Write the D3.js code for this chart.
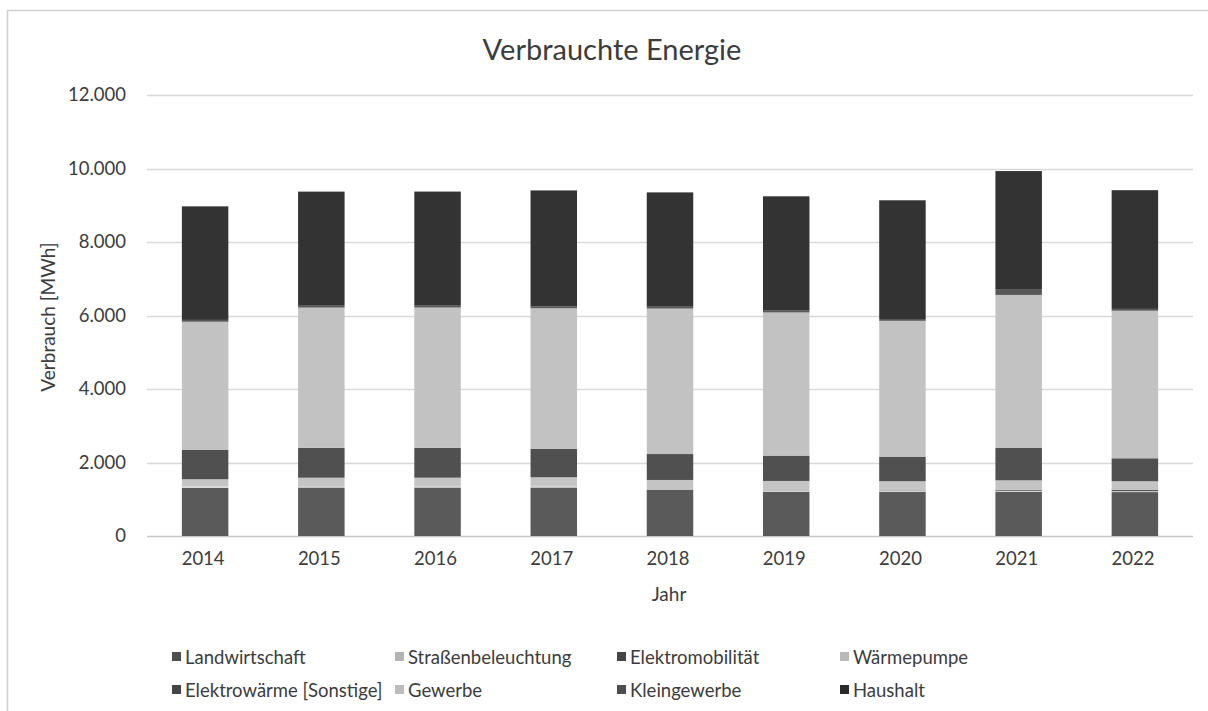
<!DOCTYPE html>
<html>
<head>
<meta charset="utf-8">
<script src="https://cdn.jsdelivr.net/npm/d3@7"></script>
<style>
  html, body { margin: 0; padding: 0; background: #fff; }
  svg { display: block; font-family: Lato, "Open Sans", sans-serif; }
</style>
</head>
<body>
<svg id="chart" width="1208" height="711"></svg>
<script>
// ---- Data ----
const years = ["2014", "2015", "2016", "2017", "2018", "2019", "2020", "2021", "2022"];
const seriesNames = ["Landwirtschaft", "Straßenbeleuchtung", "Elektromobilität", "Wärmepumpe",
                     "Elektrowärme [Sonstige]", "Gewerbe", "Kleingewerbe", "Haushalt"];
const landwirtschaft     = [1310, 1320, 1320, 1320, 1265, 1205, 1205, 1205, 1195];
const strassenbeleuchtung = [40, 40, 40, 40, 35, 25, 25, 25, 25];
const elektromobilitaet  = [0, 1, 2, 3, 5, 8, 10, 20, 30];
const waermepumpe        = [195, 225, 225, 235, 220, 260, 250, 265, 240];
const elektrowaerme      = [795, 810, 810, 770, 705, 690, 660, 880, 625];
const gewerbe            = [3490, 3820, 3820, 3830, 3960, 3895, 3705, 4165, 4015];
const kleingewerbe       = [50, 50, 50, 50, 50, 50, 50, 160, 50];
const haushalt           = [3090, 3105, 3105, 3155, 3110, 3110, 3230, 3210, 3230];
const yTicks = [0, 2000, 4000, 6000, 8000, 10000, 12000];

const seriesValues = [landwirtschaft, strassenbeleuchtung, elektromobilitaet, waermepumpe,
                      elektrowaerme, gewerbe, kleingewerbe, haushalt];
const barColors    = ["#5a5a5a", "#d6d6d6", "#4a4a4a", "#c4c4c4", "#505050", "#c2c2c2", "#585858", "#333333"];
const legendColors = ["#4e4e4e", "#b4b4b4", "#454545", "#b8b8b8", "#454545", "#bcbcbc", "#4e4e4e", "#2a2a2a"];

// build table
const table = years.map((y, i) => {
  const row = { year: y };
  seriesNames.forEach((s, k) => row[s] = seriesValues[k][i]);
  return row;
});

const svg = d3.select("#chart");
svg.append("rect").attr("width", 1208).attr("height", 711).attr("fill", "#fff");
// chart border
svg.append("rect").attr("x", 7.5).attr("y", 10.5).attr("width", 1220).attr("height", 720)
  .attr("fill", "none").attr("stroke", "#d0d0d0").attr("stroke-width", 1.5);

const locale = d3.formatLocale({ decimal: ",", thousands: ".", grouping: [3], currency: ["", " €"] });
const fmt = locale.format(",");

const x = d3.scaleBand().domain(years).range([147, 1193]).paddingInner(0.6).paddingOuter(0.3);
const y = d3.scaleLinear().domain([0, 12000]).range([536, 95]);

const textCol = "#3c3c3c";

// gridlines
svg.append("g").selectAll("line").data(yTicks).join("line")
  .attr("x1", 147).attr("x2", 1193)
  .attr("y1", d => Math.round(y(d)) + 0.5).attr("y2", d => Math.round(y(d)) + 0.5)
  .attr("stroke", d => d === 0 ? "#c8c8c8" : "#d9d9d9").attr("stroke-width", 1.3);

// stacked bars
const stack = d3.stack().keys(seriesNames)(table);
svg.append("g").selectAll("g").data(stack).join("g")
  .attr("fill", (d, i) => barColors[i])
  .selectAll("rect").data(d => d).join("rect")
  .attr("x", d => x(d.data.year))
  .attr("width", x.bandwidth())
  .attr("y", d => y(d[1]))
  .attr("height", d => Math.max(0, y(d[0]) - y(d[1])));

// y axis labels
const yAxis = d3.axisLeft(y).tickValues(yTicks).tickFormat(fmt).tickSize(0).tickPadding(0);
const gy = svg.append("g").attr("transform", "translate(126,0)").call(yAxis);
gy.select(".domain").remove();
gy.selectAll("text").attr("font-size", 18.5).attr("fill", textCol).attr("font-family", "Lato, sans-serif");

// x axis labels
const xAxis = d3.axisBottom(x).tickSize(0).tickPadding(0);
const gx = svg.append("g").attr("transform", "translate(-2,552)").call(xAxis);
gx.select(".domain").remove();
gx.selectAll("text").attr("font-size", 18.5).attr("fill", textCol).attr("font-family", "Lato, sans-serif");

// title
svg.append("text").attr("x", 612).attr("y", 60).attr("text-anchor", "middle")
  .attr("font-size", 29).attr("fill", textCol).text("Verbrauchte Energie");

// axis titles
svg.append("text").attr("x", 669).attr("y", 601).attr("text-anchor", "middle")
  .attr("font-size", 19).attr("fill", textCol).text("Jahr");
svg.append("text").attr("transform", "translate(55,317) rotate(-90)").attr("text-anchor", "middle")
  .attr("font-size", 19).attr("fill", textCol).text("Verbrauch [MWh]");

// legend
const legendX = [172, 395, 617, 840];
const legendY = [657, 690];
const lg = svg.append("g").selectAll("g").data(seriesNames).join("g")
  .attr("transform", (d, i) => `translate(${legendX[i % 4]},${legendY[Math.floor(i / 4)]})`);
lg.append("rect").attr("x", 0).attr("y", -5).attr("width", 9).attr("height", 9)
  .attr("fill", (d, i) => legendColors[i]);
lg.append("text").attr("x", 13).attr("y", 6.5).attr("font-size", 18.5)
  .attr("fill", textCol).text(d => d);
</script>
</body>
</html>
